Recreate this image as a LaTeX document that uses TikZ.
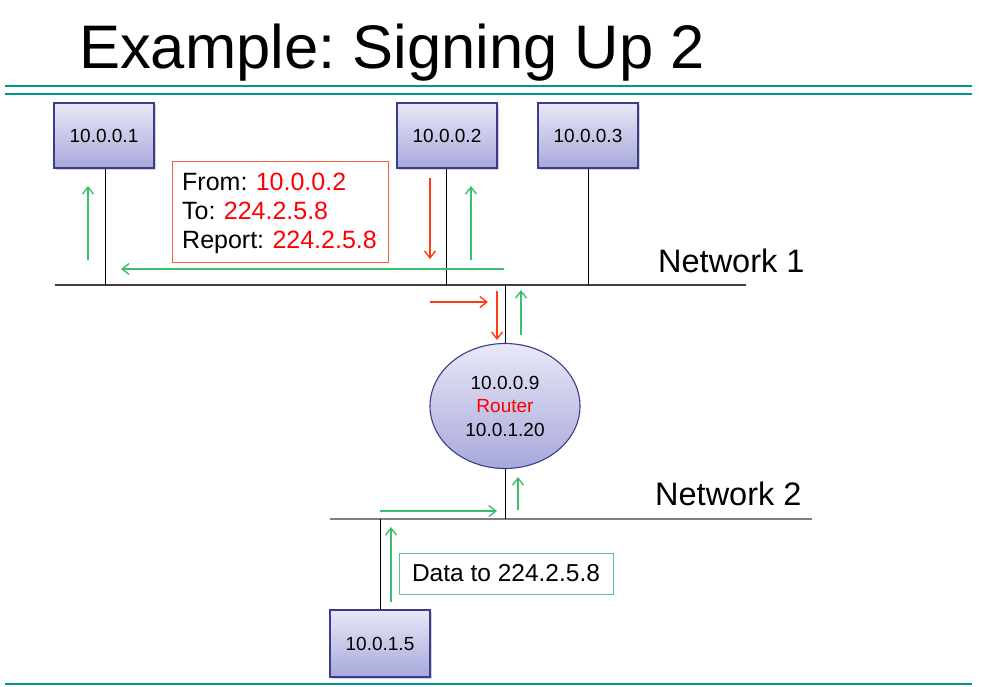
\documentclass[tikz,border=0pt]{standalone}
\usepackage{fontspec}
\setmainfont{Liberation Sans}
\frenchspacing
\usetikzlibrary{arrows.meta,shadows,shapes.geometric}
\definecolor{tealline}{RGB}{0,150,140}
\definecolor{boxtop}{RGB}{232,232,246}
\definecolor{boxbot}{RGB}{168,168,220}
\definecolor{boxedge}{RGB}{60,60,140}
\definecolor{grn}{RGB}{60,190,110}
\definecolor{rdarr}{RGB}{255,60,20}
\definecolor{rdtxt}{RGB}{255,0,0}
\definecolor{rdbox}{RGB}{255,90,60}
\definecolor{grbox}{RGB}{90,200,130}
\tikzset{
  hostbox/.style={draw=boxedge, line width=1.1pt, top color=boxtop, bottom color=boxbot,
    minimum width=100pt, minimum height=65pt, inner sep=0pt,
    drop shadow={shadow xshift=2pt, shadow yshift=-2pt, opacity=0.35},
    font=\fontsize{19}{22}\selectfont},
  routerell/.style={ellipse, draw=boxedge, line width=1.1pt, top color=boxtop, bottom color=boxbot,
    minimum width=150pt, minimum height=125pt, inner sep=0pt, align=center,
    font=\fontsize{19}{23.5}\selectfont},
  netline/.style={draw=black!75, line width=1.2pt},
  stem/.style={draw=black, line width=0.9pt},
  garr/.style={draw=grn, line width=1.4pt, -{Straight Barb[length=7pt,width=11pt]}},
  rarr/.style={draw=rdarr, line width=1.4pt, -{Straight Barb[length=7pt,width=11pt]}},
  netlabel/.style={anchor=base west, inner sep=0pt, font=\fontsize{32.5}{36}\selectfont},
}
\begin{document}
\begin{tikzpicture}[x=1pt,y=-1pt]
\useasboundingbox (0,0) rectangle (982,686);
% title and rules
\node[anchor=base west, inner sep=0pt, font=\fontsize{61.5}{70}\selectfont] (title) at (79,68) {Example: Signing Up 2};
\coordinate (t1a) at (5,86); \coordinate (t1b) at (972,86);
\coordinate (t2a) at (5,94); \coordinate (t2b) at (972,94);
\coordinate (t3a) at (5,684); \coordinate (t3b) at (972,684);
\draw[tealline, line width=2.3pt] (t1a) -- (t1b);
\draw[tealline, line width=2.3pt] (t2a) -- (t2b);
\draw[tealline, line width=2pt] (t3a) -- (t3b);
% network lines
\coordinate (n1a) at (55,285); \coordinate (n1b) at (746,285);
\coordinate (n2a) at (330,519); \coordinate (n2b) at (812,519);
\draw[netline] (n1a) -- (n1b);
\draw[draw=black!50, line width=2pt] (n2a) -- (n2b);
\node[netlabel] (net1) at (658,272) {Network 1};
\node[netlabel] (net2) at (655,505) {Network 2};
% hosts
\node[hostbox] (h1) at (104,135.5) {10.0.0.1};
\node[hostbox] (h2) at (447,135.5) {10.0.0.2};
\node[hostbox] (h3) at (588,135.5) {10.0.0.3};
\node[hostbox, minimum height=67pt] (h5) at (380,643.5) {10.0.1.5};
\node[routerell] (router) at (505,406) {10.0.0.9\\\textcolor{rdtxt}{Router}\\10.0.1.20};
% stems
\coordinate (s1) at (105,285); \coordinate (s2) at (446,285); \coordinate (s3) at (588,285);
\coordinate (sr1) at (505,285); \coordinate (sr2) at (505,519); \coordinate (s5) at (380,519);
\draw[stem] (h1.south -| s1) -- (s1);
\draw[stem] (h2.south -| s2) -- (s2);
\draw[stem] (h3.south) -- (s3);
\draw[stem] (sr1) -- (router.north);
\draw[stem] (router.south) -- (sr2);
\draw[stem] (h5.north) -- (s5);
% message boxes
\node[draw=rdbox, line width=1pt, minimum width=216pt, minimum height=101pt, inner sep=0pt] (msg) at (280,211.5) {};
\node[anchor=north west, inner sep=0pt, text width=200pt, align=left,
  font=\fontsize{25}{29}\selectfont] (msgtext) at (182,173)
  {From: \textcolor{rdtxt}{10.0.0.2}\\To: \textcolor{rdtxt}{224.2.5.8}\\Report: \textcolor{rdtxt}{224.2.5.8}};
\node[draw=grbox, line width=1pt, minimum width=214pt, minimum height=41pt, inner sep=0pt,
  font=\fontsize{24.5}{28}\selectfont] (data) at (506,573.5) {Data to 224.2.5.8};
% arrows
\coordinate (a1s) at (88,260); \coordinate (a1e) at (88,186);
\coordinate (a2s) at (504,269); \coordinate (a2e) at (121,269);
\coordinate (a3s) at (430,178); \coordinate (a3e) at (430,259);
\coordinate (a4s) at (471,260); \coordinate (a4e) at (471,186);
\coordinate (a5s) at (430,302); \coordinate (a5e) at (488,302);
\coordinate (a6s) at (497,291); \coordinate (a6e) at (497,340);
\coordinate (a7s) at (521,335); \coordinate (a7e) at (521,290);
\coordinate (a8s) at (518,510); \coordinate (a8e) at (518,477);
\coordinate (a9s) at (380,511); \coordinate (a9e) at (497,511);
\coordinate (a10s) at (391,602); \coordinate (a10e) at (391,527);
\draw[garr] (a1s) -- (a1e);
\draw[garr] (a2s) -- (a2e);
\draw[rarr] (a3s) -- (a3e);
\draw[garr] (a4s) -- (a4e);
\draw[rarr] (a5s) -- (a5e);
\draw[rarr] (a6s) -- (a6e);
\draw[garr] (a7s) -- (a7e);
\draw[garr] (a8s) -- (a8e);
\draw[garr] (a9s) -- (a9e);
\draw[garr] (a10s) -- (a10e);
\end{tikzpicture}
\end{document}
